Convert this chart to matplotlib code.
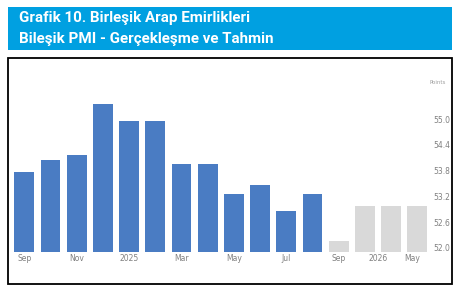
import matplotlib
matplotlib.use("Agg")
import matplotlib.pyplot as plt
from matplotlib.patches import Rectangle

# Data
actual_labels = ["Sep 2024", "Oct 2024", "Nov 2024", "Dec 2024", "Jan 2025", "Feb 2025",
                 "Mar 2025", "Apr 2025", "May 2025", "Jun 2025", "Jul 2025", "Aug 2025"]
actual_values = [53.77, 54.05, 54.16, 55.36, 54.96, 54.96, 53.95, 53.95, 53.26, 53.46, 52.86, 53.26]
forecast_labels = ["Sep 2025", "F1", "F2", "F3"]
forecast_values = [52.16, 52.97, 52.97, 52.97]
xtick_labels = ["Sep", "Nov", "2025", "Mar", "May", "Jul", "Sep", "2026", "May"]
ytick_values = [52.0, 52.6, 53.2, 53.8, 54.4, 55.0]
title_lines = ["Grafik 10. Birleşik Arap Emirlikleri", "Bileşik PMI - Gerçekleşme ve Tahmin"]
unit_label = "Points"

W, H = 456, 287
fig = plt.figure(figsize=(W / 100, H / 100), dpi=100)
fig.patch.set_facecolor("white")

def fx(px):
    return px / W

def fy(py):
    return 1 - py / H

# Title band
band = Rectangle((fx(8), fy(49.5)), fx(452.5) - fx(8), fy(7.3) - fy(49.5),
                 transform=fig.transFigure, facecolor="#00a0e1", edgecolor="none", zorder=0)
fig.patches.append(band)
fig.text(fx(19.5), fy(18), title_lines[0], color="white", fontsize=10.9, fontweight="bold",
         family="Roboto", va="center", ha="left")
fig.text(fx(19.5), fy(38.5), title_lines[1], color="white", fontsize=10.9, fontweight="bold",
         family="Roboto", va="center", ha="left")

# Frame
frame = Rectangle((fx(8.5), fy(283.5)), fx(452.5) - fx(8.5), fy(58.3) - fy(283.5),
                  transform=fig.transFigure, facecolor="none", edgecolor="black", lw=1.3, zorder=5)
fig.patches.append(frame)

# Axes
ax_left_px, ax_right_px = 12, 430
ax_top_px, ax_bot_px = 70, 252.3
ax = fig.add_axes([fx(ax_left_px), fy(ax_bot_px), fx(ax_right_px) - fx(ax_left_px),
                   fy(ax_top_px) - fy(ax_bot_px)])
ax.set_facecolor("none")

n_act = len(actual_values)
x_act = list(range(n_act))
x_fc = list(range(n_act, n_act + len(forecast_values)))
ax.bar(x_act, actual_values, width=0.76, color="#4a7cc3")
ax.bar(x_fc, forecast_values, width=0.76, color="#d9d9d9")

px_per_unit_x = 26.2
x0 = (ax_left_px - 24.3) / px_per_unit_x
x1 = (ax_right_px - 24.3) / px_per_unit_x
ax.set_xlim(x0, x1)
px_per_unit_y = 42.8
ybot = 52.0 - (ax_bot_px - 247.7) / px_per_unit_y
ytop = ybot + (ax_bot_px - ax_top_px) / px_per_unit_y
ax.set_ylim(ybot, ytop)

for s in ax.spines.values():
    s.set_visible(False)

ax.yaxis.tick_right()
ax.set_yticks(ytick_values)
ax.set_yticklabels([f"{v:.1f}" for v in ytick_values])
ax.tick_params(axis="y", length=0, pad=2.5, labelsize=5.5, labelcolor="#808080")

xtick_pos = [0, 2, 4, 6, 8, 10, 12, 13.5, 14.8]
ax.set_xticks(xtick_pos)
ax.set_xticklabels(xtick_labels)
ax.tick_params(axis="x", length=0, pad=1.5, labelsize=5.5, labelcolor="#808080")

ax.text(1.0, 1 - (83 - ax_top_px) / (ax_bot_px - ax_top_px), unit_label, transform=ax.transAxes,
        fontsize=4, color="#a0a0a0", ha="left", va="center", clip_on=False)

fig.savefig("out.png", dpi=100)
